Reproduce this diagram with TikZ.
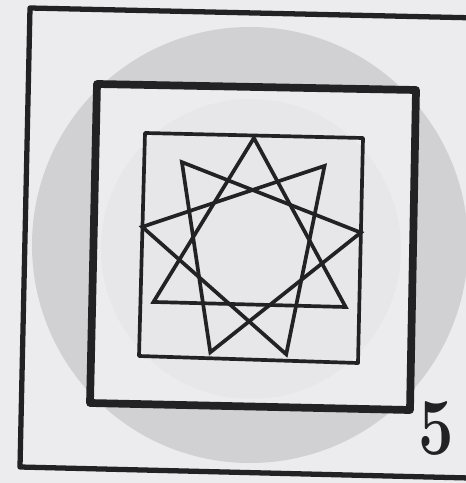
\documentclass[tikz,border=0pt]{standalone}
\usepackage{tikz}
\usetikzlibrary{calc}

\definecolor{paper}{RGB}{236,236,238}
\definecolor{disc}{RGB}{209,209,211}
\definecolor{halo}{RGB}{231,231,233}
\definecolor{ink}{RGB}{34,34,36}

\begin{document}
\begin{tikzpicture}[x=0.02cm, y=-0.02cm,
  outerline/.style={draw=ink, line width=3pt, line join=round},
  thickline/.style={draw=ink, line width=4.4pt, line join=round},
  thinline/.style={draw=ink, line width=2.1pt, line join=round},
  starline/.style={draw=ink, line width=2.1pt, line join=miter}]

  % Paper
  \fill[paper] (0,0) rectangle (466,483);
  \useasboundingbox (0,0) rectangle (466,483);

  % Define corners
  \coordinate (o1) at (30,8);
  \coordinate (o2) at (480,18);
  \coordinate (o3) at (470,478);
  \coordinate (o4) at (20,467);
  \coordinate (k1) at (97,84);
  \coordinate (k2) at (416,90);
  \coordinate (k3) at (410,410);
  \coordinate (k4) at (90,403);
  \coordinate (t1) at (145,133);
  \coordinate (t2) at (363,138);
  \coordinate (t3) at (358,363);
  \coordinate (t4) at (139,356);
  \coordinate (c) at (251,249);

  % Discs
  \fill[disc] (250,245) circle (218);
  \fill[paper] (k1) -- (k2) -- (k3) -- (k4) -- cycle;
  \fill[halo] (c) circle (150);

  % Draw squares
  \draw[outerline] (o1) -- (o2) -- (o3) -- (o4) -- cycle;
  \draw[thickline] (k1) -- (k2) -- (k3) -- (k4) -- cycle;
  \draw[thinline] (t1) -- (t2) -- (t3) -- (t4) -- cycle;

  % Star points
  \begin{scope}[shift={(c)}]
    \foreach \i in {0,...,8}
      \coordinate (s\i) at (-88.5+40*\i:111);
  \end{scope}

  % Draw star
  \draw[starline] (s0) -- (s3) -- (s6) -- cycle;
  \draw[starline] (s1) -- (s4) -- (s7) -- cycle;
  \draw[starline] (s2) -- (s5) -- (s8) -- cycle;

  % Number
  \node[text=ink, inner sep=0pt] (num) at (436,428)
    {\scalebox{0.78}[1]{\fontsize{46}{46}\selectfont\bfseries 5}};
\end{tikzpicture}
\end{document}
